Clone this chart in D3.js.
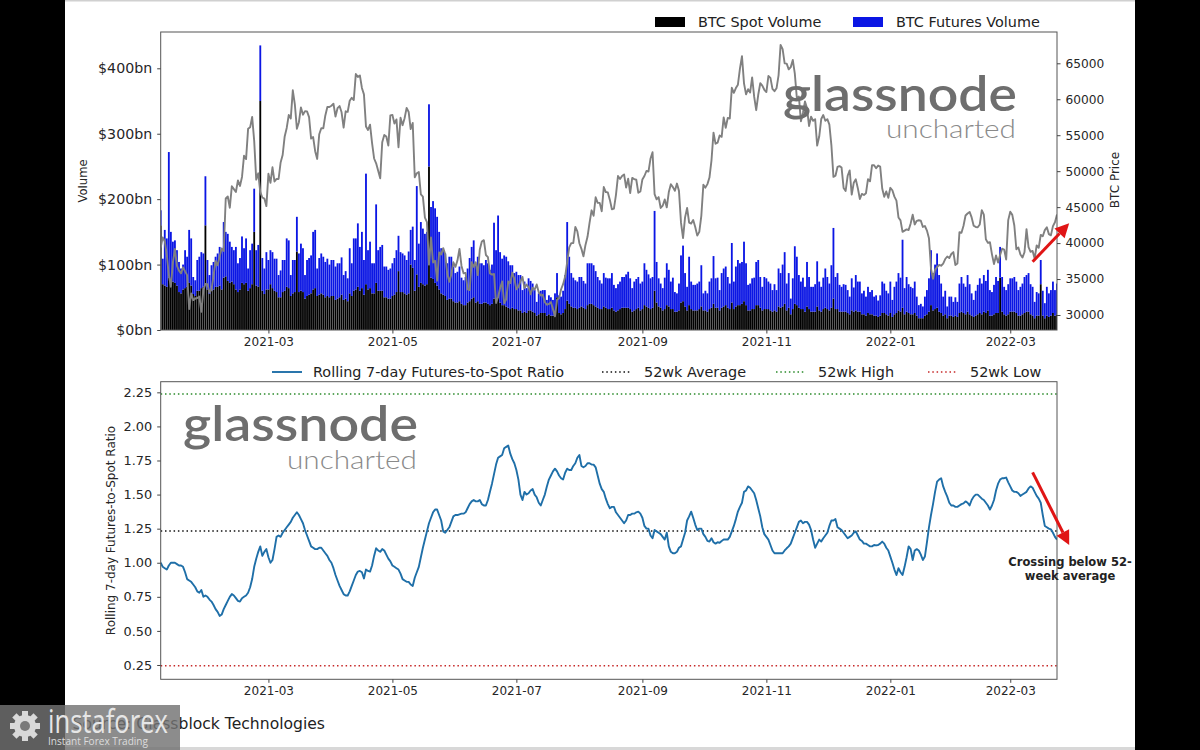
<!DOCTYPE html>
<html>
<head>
<meta charset="utf-8">
<script src="https://cdn.jsdelivr.net/npm/d3@7"></script>
<style>
  body { margin: 0; background: #000; }
  svg { display: block; }
  text { font-family: "DejaVu Sans", sans-serif; }
</style>
</head>
<body>
<svg width="1200" height="750"></svg>
<script>
// daily series, first value is 2021-01-07, last is 2022-03-24
const firstDay = "2021-01-07";

// BTC spot volume, $bn
const spotVolume = [
  160,70,68,66,80,78,74,72,68,58, 56,62,64,66,72,68,55,52,60,60,
  64,66,160,62,55,60,62,66,66,68, 62,80,82,75,72,74,70,62,58,62,
  72,70,72,60,64,70,150,68,66,350, 60,55,62,62,70,64,60,58,50,50,
  58,60,66,64,52,56,58,120,58,60, 58,48,52,54,56,62,64,52,54,56,
  54,50,52,50,52,52,46,48,50,54, 46,48,44,56,52,60,62,66,60,64,
  54,70,62,64,56,56,72,60,60,60, 50,50,48,48,52,54,58,90,58,58,
  56,54,56,100,95,60,85,66,72,70, 68,70,250,80,78,72,68,62,56,54,
  52,46,48,48,44,42,42,44,40,38, 38,42,44,48,50,42,44,40,40,42,
  42,40,38,40,48,46,50,42,38,38, 36,34,32,34,32,32,30,30,26,28,
  26,30,30,28,26,22,24,26,26,26, 22,24,22,22,26,50,26,24,26,32,
  45,40,36,34,34,32,34,36,34,32, 38,40,40,38,36,34,32,32,36,34,
  32,32,34,30,28,30,32,34,34,34, 34,32,28,30,32,34,30,32,38,36,
  34,32,34,60,42,36,34,30,32,38, 36,32,32,28,28,30,42,44,36,30,
  38,32,30,30,30,32,36,30,30,28, 32,34,40,34,34,30,34,36,38,34,
  32,42,32,36,38,38,40,44,38,30, 30,32,32,38,38,34,30,32,32,32,
  30,28,30,28,36,34,36,40,30,34, 24,32,40,38,34,32,32,28,36,32,
  28,28,28,36,30,28,32,34,32,30, 34,48,32,32,28,28,28,28,26,24,
  30,28,30,28,28,24,24,22,26,24, 24,22,22,20,22,26,26,24,22,26,
  20,24,26,30,28,34,24,28,26,24, 24,26,22,18,18,18,22,24,28,38,
  30,32,34,28,26,22,24,18,22,22, 20,22,20,26,28,26,24,28,24,22,
  20,22,24,26,24,28,26,30,22,22, 24,26,26,80,28,24,22,24,28,28,
  28,26,22,22,24,26,28,28,24,22, 18,22,22,70,22,18,22,20,22,26,
  22,24
];

// BTC futures volume, $bn
const futuresVolume = [
  23,39,85,74,192,72,61,65,54,46, 38,38,58,46,81,72,26,24,47,52,
  55,51,75,45,29,39,42,46,51,59, 60,85,68,72,63,53,52,65,44,48,
  71,55,68,34,58,62,66,54,64,85, 50,39,57,45,52,55,49,51,34,41,
  49,47,74,73,32,51,49,53,59,72, 67,36,55,56,58,88,89,42,56,61,
  58,54,57,50,55,55,51,54,52,57, 38,42,35,69,50,80,78,97,67,86,
  53,169,60,71,46,46,120,62,67,70, 47,47,44,46,50,56,64,54,61,59,
  58,53,64,53,63,47,135,66,93,85, 79,80,95,108,119,114,105,88,69,68,
  65,56,64,64,53,45,47,53,40,38, 43,52,66,79,87,57,68,62,62,57,
  65,62,54,60,116,76,125,77,71,76, 76,71,67,65,55,57,54,54,35,46,
  38,49,45,43,35,21,32,34,35,35, 24,29,28,24,30,37,27,27,34,52,
  120,72,51,46,42,42,47,45,41,39, 64,62,62,61,54,47,44,39,51,46,
  47,47,53,39,36,40,42,47,47,51, 55,47,36,44,46,47,41,42,64,56,
  51,47,47,122,62,43,37,34,48,64, 56,42,48,30,28,41,72,85,51,36,
  74,42,39,39,41,42,63,26,30,28, 42,45,73,45,46,31,53,58,59,47,
  39,91,42,61,69,64,64,91,64,39, 41,47,48,66,69,47,36,49,47,42,
  41,33,40,33,58,53,64,79,41,53, 24,47,88,74,50,42,48,38,68,49,
  38,38,42,69,44,38,48,60,49,41, 65,108,49,55,41,38,42,41,35,27,
  49,37,54,46,46,32,36,29,40,34, 37,29,31,25,31,48,45,36,34,48,
  26,42,48,57,52,104,40,53,44,42, 40,48,29,20,22,18,29,37,51,84,
  57,68,83,56,45,29,36,18,29,29, 23,28,23,45,53,45,42,56,46,34,
  26,38,45,53,47,56,49,62,39,36, 45,55,49,47,53,42,39,46,51,51,
  53,48,39,44,47,55,56,59,46,44, 25,36,34,37,38,23,44,36,39,48,
  39,47
];

// BTC price, USD
const btcPrice = [
  39371,40797,40254,38356,35566,33922,37316,39187,36825,36178,35792,36630,36069,35547,30825,33005,32067,32289,32366,32569,30432,33466,34316,34269,33114,
  33538,35510,37472,36926,38144,39266,38903,46196,46481,44918,47909,47504,47105,48717,47945,49199,52149,51679,55888,56099,57539,54207,48824,49705,47093,46339,46188,45137,
  49631,48378,50538,48561,48927,48912,51206,52246,54824,56008,57805,57332,61243,59302,55907,56804,58870,57858,58346,58313,57523,54529,54738,52774,51704,55137,55974,55947,57750,58917,58918,
  59095,59384,57603,58758,59057,58192,56048,58323,58245,59793,60204,59893,63503,63109,63314,61572,60683,56216,55724,56473,53906,51762,51093,50050,49004,54021,55033,54824,53555,57750,
  57828,56631,57200,53333,57424,56396,57356,58803,58232,55859,56704,49150,49716,49880,46760,46456,43537,42909,37002,40782,37304,37536,34770,38705,38402,39295,38436,35698,34616,35678,37333,
  36693,37568,39188,36825,35791,35849,33560,33472,37345,36702,37334,35552,39098,40218,40406,38347,38053,35787,35615,35698,31676,32505,33723,34662,31637,32186,34650,34434,35867,35041,
  33572,33897,34668,35287,33746,34235,33855,32877,33798,33520,34240,33155,32702,32822,31780,31421,31533,31796,30817,29807,32110,32313,33581,34292,35350,37337,39406,39995,40008,42235,41626,
  39974,39201,38152,39747,40869,42816,44555,43798,46366,45585,45593,44428,47793,47096,47047,46004,44695,44802,46717,49339,48905,49321,49546,47706,48960,46942,49058,48897,48806,46991,47166,
  48847,49327,50025,49944,51753,52633,46811,46091,46391,44883,45201,46063,44963,47092,48176,47783,47267,48278,47260,42844,40694,43574,44896,42840,42717,43208,42236,41034,41564,43790,
  48117,47712,48200,49113,51515,55361,53806,53968,54966,54772,57485,56041,57401,57322,61593,60892,61553,62026,64262,65992,62210,60692,61393,60931,63039,60363,58482,60622,62228,61888,61318,
  61004,63226,62970,61452,61125,61527,63326,67566,66971,64995,64949,64155,64469,65466,63557,60161,60368,56942,58119,59697,58730,56289,57570,57005,57229,53555,54810,57248,57806,57005,
  57229,56477,53598,49200,49368,50582,50700,50505,47672,47243,49362,50098,46737,48379,48864,47632,46131,46834,46681,46915,48896,48588,50838,50820,50400,50775,50640,47588,46444,47178,46306,
  47686,47345,46458,45897,43569,43160,41558,41734,41912,41821,42736,43949,42592,43099,43177,43113,42250,42375,41744,40680,36457,35030,36276,36654,36954,36852,37138,37784,38138,37917,38483,
  38743,36952,37154,41500,41441,42412,43840,44118,44338,43565,42407,42244,42197,42586,44575,43961,40538,40030,40122,38431,37075,38286,37296,38332,39214,39105,37709,43193,
  44354,43924,42451,39137,39400,38420,37988,38730,41941,39439,38794,38904,37849,39666,39338,41143,40951,41801,42190,41247,41077,42358,42892,43960
];

// rolling 7-day futures-to-spot ratio
const futuresSpotRatio = [
  1.00,0.97,0.96,0.95,0.98,1.00,1.00,1.00,0.99,0.98, 0.98,0.97,0.93,0.88,0.87,0.86,0.84,0.82,0.79,0.78,
  0.80,0.75,0.76,0.75,0.73,0.715,0.69,0.66,0.64,0.61, 0.62,0.66,0.69,0.72,0.75,0.77,0.76,0.74,0.72,0.715,
  0.74,0.75,0.76,0.78,0.82,0.88,0.97,1.03,1.08,1.12, 1.05,1.08,1.10,1.04,1.00,1.02,1.10,1.19,1.20,1.19,
  1.22,1.24,1.26,1.28,1.30,1.33,1.35,1.37,1.35,1.32, 1.29,1.24,1.20,1.16,1.12,1.11,1.10,1.10,1.11,1.11,
  1.09,1.07,1.05,1.02,1.00,0.96,0.91,0.87,0.83,0.80, 0.77,0.76,0.76,0.79,0.83,0.87,0.91,0.935,0.94,0.93,
  0.885,0.95,0.94,0.935,0.98,1.05,1.106,1.09,1.08,1.10, 1.09,1.06,1.03,1.01,0.98,0.97,0.96,0.95,0.92,0.88,
  0.87,0.86,0.86,0.84,0.83,0.89,0.93,0.97,1.04,1.11, 1.17,1.23,1.29,1.33,1.37,1.39,1.39,1.35,1.31,1.23,
  1.22,1.24,1.26,1.30,1.34,1.35,1.35,1.355,1.36,1.36, 1.37,1.40,1.43,1.45,1.46,1.45,1.45,1.46,1.43,1.42,
  1.42,1.46,1.52,1.58,1.65,1.72,1.77,1.78,1.79,1.84, 1.85,1.86,1.80,1.76,1.73,1.68,1.61,1.50,1.46,1.52,
  1.50,1.51,1.53,1.54,1.50,1.48,1.44,1.42,1.46,1.50, 1.56,1.61,1.64,1.67,1.69,1.67,1.64,1.62,1.61,1.66,
  1.69,1.68,1.68,1.71,1.73,1.77,1.79,1.71,1.70,1.71, 1.73,1.73,1.72,1.72,1.70,1.64,1.58,1.54,1.52,1.47,
  1.43,1.40,1.41,1.41,1.37,1.35,1.33,1.31,1.29,1.31, 1.35,1.35,1.36,1.36,1.37,1.375,1.36,1.33,1.27,1.25,
  1.25,1.20,1.18,1.24,1.23,1.22,1.21,1.19,1.17,1.22, 1.12,1.08,1.07,1.07,1.08,1.11,1.12,1.17,1.22,1.31,
  1.34,1.375,1.33,1.28,1.24,1.25,1.25,1.21,1.19,1.16, 1.155,1.18,1.15,1.14,1.15,1.147,1.16,1.17,1.17,1.17,
  1.19,1.23,1.27,1.32,1.375,1.41,1.44,1.52,1.53,1.56, 1.55,1.53,1.51,1.46,1.40,1.34,1.26,1.21,1.19,1.17,
  1.13,1.09,1.07,1.07,1.07,1.07,1.07,1.09,1.106,1.12, 1.14,1.18,1.22,1.26,1.30,1.31,1.29,1.30,1.30,1.28,
  1.24,1.17,1.11,1.14,1.17,1.155,1.18,1.20,1.22,1.27, 1.31,1.31,1.32,1.26,1.25,1.24,1.22,1.20,1.18,1.19,
  1.20,1.22,1.23,1.20,1.17,1.16,1.14,1.14,1.13,1.12, 1.12,1.13,1.127,1.13,1.14,1.155,1.14,1.11,1.09,1.045,
  1.00,0.95,0.91,0.96,0.93,0.91,0.97,1.04,1.12,1.10, 1.02,1.09,1.10,1.09,1.06,1.02,1.045,1.15,1.26,1.35,
  1.43,1.52,1.595,1.61,1.62,1.56,1.52,1.485,1.44,1.42, 1.42,1.41,1.41,1.42,1.43,1.435,1.45,1.44,1.42,1.46,
  1.485,1.50,1.50,1.485,1.47,1.46,1.44,1.42,1.39,1.42, 1.46,1.53,1.58,1.61,1.62,1.62,1.625,1.59,1.56,1.53,
  1.52,1.52,1.51,1.49,1.50,1.51,1.52,1.545,1.56,1.55, 1.52,1.49,1.47,1.44,1.35,1.27,1.26,1.25,1.245,1.22,
  1.19,1.17
];

const ratioAverage = 1.233;
const ratioHigh = 2.237;
const ratioLow = 0.245;

const xTickLabels = ["2021-03", "2021-05", "2021-07", "2021-09", "2021-11", "2022-01", "2022-03"];
const volumeTicks = [0, 100, 200, 300, 400];
const priceTicks = [30000, 35000, 40000, 45000, 50000, 55000, 60000, 65000];
const ratioTicks = [0.25, 0.5, 0.75, 1.0, 1.25, 1.5, 1.75, 2.0, 2.25];

const svg = d3.select("svg");
const W = 1200, H = 750;

// white page inside the black frame
svg.append("rect").attr("x", 65).attr("y", 0).attr("width", 1070).attr("height", H).attr("fill", "#fff");
svg.append("rect").attr("x", 65).attr("y", 0).attr("width", 1070).attr("height", 1.5).attr("fill", "#d0d0d0");
svg.append("rect").attr("x", 65).attr("y", 747).attr("width", 1070).attr("height", 3).attr("fill", "#d8d8d8");

const topBox = { left: 160.7, right: 1057, top: 32, bottom: 330 };
const botBox = { left: 160.7, right: 1057, top: 381.7, bottom: 679.3 };

const start = d3.utcParse("%Y-%m-%d")(firstDay);
const dates = spotVolume.map((_, i) => d3.utcDay.offset(start, i));
const n = dates.length;

const xTop = d3.scaleUtc().domain([dates[0], dates[n - 1]]).range([topBox.left, topBox.right]);
const xBot = xTop.copy();
const volY = d3.scaleLinear().domain([0, 455.5]).range([topBox.bottom, topBox.top]);
const priceY = d3.scaleLinear().domain([27914, 69352]).range([topBox.bottom, topBox.top]);
const ratioY = d3.scaleLinear().domain([0.145, 2.328]).range([botBox.bottom, botBox.top]);

const xTickDates = xTickLabels.map(s => d3.utcParse("%Y-%m")(s));
const dayW = xTop(dates[1]) - xTop(dates[0]);

const defs = svg.append("defs");
defs.append("clipPath").attr("id", "clipTop").append("rect")
  .attr("x", topBox.left).attr("y", topBox.top)
  .attr("width", topBox.right - topBox.left).attr("height", topBox.bottom - topBox.top);
defs.append("clipPath").attr("id", "clipBot").append("rect")
  .attr("x", botBox.left).attr("y", botBox.top)
  .attr("width", botBox.right - botBox.left).attr("height", botBox.bottom - botBox.top);

// ---- top panel: stacked volume bars
const rows = dates.map((d, i) => ({ date: d, spot: spotVolume[i], futures: futuresVolume[i] }));
const stacked = d3.stack().keys(["spot", "futures"])(rows);
const barColor = { spot: "#000000", futures: "#0b16e4" };

const gTop = svg.append("g").attr("clip-path", "url(#clipTop)");
gTop.selectAll("g.layer").data(stacked).enter().append("g")
  .attr("class", "layer")
  .attr("fill", s => barColor[s.key])
  .selectAll("rect").data(s => s).enter().append("rect")
    .attr("x", d => xTop(d.data.date) - dayW * 0.45)
    .attr("width", dayW * 0.9)
    .attr("y", d => volY(d[1]))
    .attr("height", d => volY(d[0]) - volY(d[1]));

// watermark, top
const wmTop = svg.append("g");
wmTop.append("text").attr("x", 1017).attr("y", 111).attr("text-anchor", "end")
  .attr("textLength", 234).attr("lengthAdjust", "spacingAndGlyphs")
  .style("font-family", "Lato").style("font-size", "48px").style("font-weight", 600)
  .attr("fill", "#6e6e6e").text("glassnode");
wmTop.append("text").attr("x", 1016).attr("y", 138).attr("text-anchor", "end")
  .attr("textLength", 130).attr("lengthAdjust", "spacingAndGlyphs")
  .style("font-family", "Lato").style("font-size", "26px").style("font-weight", 300)
  .attr("fill", "#8a8a8a").text("uncharted");

// price line
gTop.append("path").datum(btcPrice)
  .attr("fill", "none").attr("stroke", "#808080").attr("stroke-width", 1.9)
  .attr("stroke-linejoin", "round")
  .attr("d", d3.line().x((d, i) => xTop(dates[i])).y(d => priceY(d)));

// frame + axes top
svg.append("rect").attr("x", topBox.left).attr("y", topBox.top)
  .attr("width", topBox.right - topBox.left).attr("height", topBox.bottom - topBox.top)
  .attr("fill", "none").attr("stroke", "#555").attr("stroke-width", 1);

function styleAxis(g, size) {
  g.select(".domain").remove();
  g.selectAll(".tick line").attr("stroke", "#444");
  g.selectAll(".tick text").attr("fill", "#262626")
    .style("font-family", "DejaVu Sans").style("font-size", size + "px");
}

svg.append("g").attr("transform", `translate(${topBox.left},0)`)
  .call(d3.axisLeft(volY).tickValues(volumeTicks).tickFormat(d => `$${d}bn`).tickSize(3.5).tickPadding(5))
  .call(g => styleAxis(g, 14.2));

svg.append("g").attr("transform", `translate(${topBox.right},0)`)
  .call(d3.axisRight(priceY).tickValues(priceTicks).tickFormat(d3.format("d")).tickSize(3.5).tickPadding(5))
  .call(g => styleAxis(g, 12.2));

svg.append("g").attr("transform", `translate(0,${topBox.bottom})`)
  .call(d3.axisBottom(xTop).tickValues(xTickDates).tickFormat(d3.utcFormat("%Y-%m")).tickSize(3.5).tickPadding(4))
  .call(g => styleAxis(g, 12));

svg.append("text").attr("transform", "translate(87,181) rotate(-90)")
  .attr("text-anchor", "middle").style("font-size", "11.6px").attr("fill", "#262626").text("Volume");
svg.append("text").attr("transform", "translate(1119,180) rotate(-90)")
  .attr("text-anchor", "middle").style("font-size", "12px").attr("fill", "#262626").text("BTC Price");

// legend top
const legTop = svg.append("g").style("font-size", "14.4px").attr("fill", "#222");
legTop.append("rect").attr("x", 655).attr("y", 17).attr("width", 30).attr("height", 10).attr("fill", barColor.spot);
legTop.append("text").attr("x", 698).attr("y", 27).text("BTC Spot Volume");
legTop.append("rect").attr("x", 853).attr("y", 17).attr("width", 30).attr("height", 10).attr("fill", barColor.futures);
legTop.append("text").attr("x", 896).attr("y", 27).text("BTC Futures Volume");

// ---- bottom panel: ratio
const gBot = svg.append("g").attr("clip-path", "url(#clipBot)");

const wmBot = svg.append("g");
wmBot.append("text").attr("x", 418).attr("y", 441).attr("text-anchor", "end")
  .attr("textLength", 235).attr("lengthAdjust", "spacingAndGlyphs")
  .style("font-family", "Lato").style("font-size", "48px").style("font-weight", 600)
  .attr("fill", "#6e6e6e").text("glassnode");
wmBot.append("text").attr("x", 417).attr("y", 469).attr("text-anchor", "end")
  .attr("textLength", 130).attr("lengthAdjust", "spacingAndGlyphs")
  .style("font-family", "Lato").style("font-size", "26px").style("font-weight", 300)
  .attr("fill", "#8a8a8a").text("uncharted");

const refLines = [
  { value: ratioHigh, color: "#2a8a2a" },
  { value: ratioAverage, color: "#111" },
  { value: ratioLow, color: "#c62828" }
];
gBot.selectAll("line.ref").data(refLines).enter().append("line")
  .attr("class", "ref")
  .attr("x1", botBox.left).attr("x2", botBox.right)
  .attr("y1", d => ratioY(d.value)).attr("y2", d => ratioY(d.value))
  .attr("stroke", d => d.color).attr("stroke-width", 1.5).attr("stroke-dasharray", "1.5,2.8");

gBot.append("path").datum(futuresSpotRatio)
  .attr("fill", "none").attr("stroke", "#1f6fa8").attr("stroke-width", 1.9)
  .attr("stroke-linejoin", "round")
  .attr("d", d3.line().x((d, i) => xBot(dates[i])).y(d => ratioY(d)));

svg.append("rect").attr("x", botBox.left).attr("y", botBox.top)
  .attr("width", botBox.right - botBox.left).attr("height", botBox.bottom - botBox.top)
  .attr("fill", "none").attr("stroke", "#555").attr("stroke-width", 1);

svg.append("g").attr("transform", `translate(${botBox.left},0)`)
  .call(d3.axisLeft(ratioY).tickValues(ratioTicks).tickFormat(d3.format(".2f")).tickSize(3.5).tickPadding(5))
  .call(g => styleAxis(g, 12.9));

svg.append("g").attr("transform", `translate(0,${botBox.bottom})`)
  .call(d3.axisBottom(xBot).tickValues(xTickDates).tickFormat(d3.utcFormat("%Y-%m")).tickSize(3.5).tickPadding(4))
  .call(g => styleAxis(g, 12));

svg.append("text").attr("transform", "translate(115,530.5) rotate(-90)")
  .attr("text-anchor", "middle").style("font-size", "12px").attr("fill", "#262626")
  .text("Rolling 7-day Futures-to-Spot Ratio");

// legend bottom
const legBot = svg.append("g").style("font-size", "14.4px").attr("fill", "#222");
legBot.append("line").attr("x1", 272).attr("x2", 302).attr("y1", 372).attr("y2", 372)
  .attr("stroke", "#1f6fa8").attr("stroke-width", 1.9);
legBot.append("text").attr("x", 313).attr("y", 377).text("Rolling 7-day Futures-to-Spot Ratio");
const legItems = [
  { x: 602, label: "52wk Average", color: "#111" },
  { x: 776, label: "52wk High", color: "#2a8a2a" },
  { x: 928, label: "52wk Low", color: "#c62828" }
];
legItems.forEach(it => {
  legBot.append("line").attr("x1", it.x).attr("x2", it.x + 28).attr("y1", 372).attr("y2", 372)
    .attr("stroke", it.color).attr("stroke-width", 1.5).attr("stroke-dasharray", "1.5,2.8");
  legBot.append("text").attr("x", it.x + 42).attr("y", 377).text(it.label);
});

// ---- red annotation arrows
function arrow(x1, y1, x2, y2) {
  const a = Math.atan2(y2 - y1, x2 - x1), L = 14, w = 7;
  const bx = x2 - L * Math.cos(a), by = y2 - L * Math.sin(a);
  svg.append("line").attr("x1", x1).attr("y1", y1).attr("x2", bx).attr("y2", by)
    .attr("stroke", "#e01515").attr("stroke-width", 3);
  const p = [[x2, y2],
    [bx + w * Math.sin(a), by - w * Math.cos(a)],
    [bx - w * Math.sin(a), by + w * Math.cos(a)]];
  svg.append("polygon").attr("points", p.map(q => q.join(",")).join(" ")).attr("fill", "#e01515");
}
const dayAt = i => d3.utcDay.offset(start, i);
arrow(xTop(dayAt(429.4)), priceY(37411), xTop(dayAt(447.5)), priceY(42751));
arrow(xBot(dayAt(429.4)), ratioY(1.663), xBot(dayAt(447.8)), ratioY(1.13));

const note = svg.append("g").attr("text-anchor", "middle")
  .style("font-family", "Liberation Sans").style("font-weight", "bold").style("font-size", "11.5px").attr("fill", "#222");
note.append("text").attr("x", 1070).attr("y", 566).text("Crossing below 52-");
note.append("text").attr("x", 1070).attr("y", 580).text("week average");

// source line
svg.append("text").attr("x", 325).attr("y", 729).attr("text-anchor", "end")
  .style("font-size", "15.6px").attr("fill", "#222").text("Source: Glassblock Technologies");

// ---- instaforex badge
const badge = svg.append("g");
badge.append("rect").attr("x", 0).attr("y", 705).attr("width", 180).attr("height", 45)
  .attr("fill", "rgb(115,115,115)").attr("fill-opacity", 0.82);
const gear = badge.append("g").attr("transform", "translate(25,726)").attr("fill", "#d9d9d9");
d3.range(8).forEach(k => {
  gear.append("rect").attr("x", -3).attr("y", -15).attr("width", 6).attr("height", 7)
    .attr("transform", `rotate(${k * 45})`);
});
gear.append("circle").attr("r", 11);
gear.append("circle").attr("r", 5).attr("fill", "#7a7a7a");
badge.append("text").attr("x", 48).attr("y", 733).attr("textLength", 120).attr("lengthAdjust", "spacingAndGlyphs")
  .style("font-family", "Open Sans").style("font-size", "32px").attr("fill", "#e6e6e6").text("instaforex");
badge.append("text").attr("x", 48).attr("y", 745).attr("textLength", 100).attr("lengthAdjust", "spacingAndGlyphs")
  .style("font-family", "Open Sans").style("font-size", "11px").attr("fill", "#dcdcdc").text("Instant Forex Trading");
</script>
</body>
</html>
